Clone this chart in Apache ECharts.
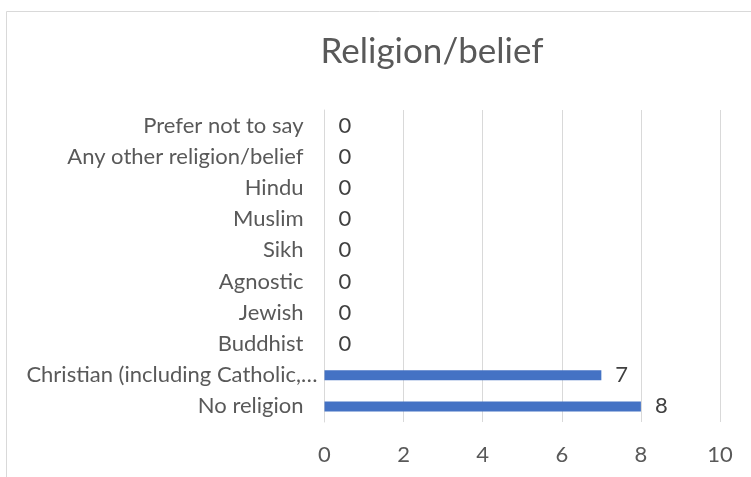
<!DOCTYPE html>
<html>
<head>
<meta charset="utf-8">
<script src="https://cdn.jsdelivr.net/npm/echarts@6/dist/echarts.min.js"></script>
<style>html,body{margin:0;padding:0;background:#fff}#c{width:751px;height:477px}</style>
</head>
<body>
<div id="c"></div>
<script>
var titleText = 'Religion/belief';
// bottom to top
var categories = ['No religion', 'Christian (including Catholic,\u2026', 'Buddhist', 'Jewish', 'Agnostic', 'Sikh', 'Muslim', 'Hindu', 'Any other religion/belief', 'Prefer not to say'];
var values = [8, 7, 0, 0, 0, 0, 0, 0, 0, 0];
var xTicks = [0, 2, 4, 6, 8, 10];

var FONT = 'Lato';
var GREY = '#595959';
var chart = echarts.init(document.getElementById('c'));
chart.setOption({
  animation: false,
  backgroundColor: '#fff',
  title: {
    text: titleText,
    left: 432,
    top: 34,
    textAlign: 'center',
    padding: 0,
    textStyle: {fontFamily: FONT, fontSize: 35, fontWeight: 'normal', color: GREY}
  },
  graphic: [{
    type: 'rect',
    shape: {x: 6.5, y: 11.5, width: 800, height: 520},
    style: {fill: 'none', stroke: '#d9d9d9', lineWidth: 1},
    silent: true
  }],
  grid: {left: 324.5, right: 31, top: 110, bottom: 55, containLabel: false},
  xAxis: {
    type: 'value',
    min: xTicks[0],
    max: xTicks[xTicks.length - 1],
    interval: 2,
    axisLine: {show: false},
    axisTick: {show: false},
    splitLine: {show: true, lineStyle: {color: '#d9d9d9', width: 1}},
    axisLabel: {fontFamily: FONT, fontSize: 22, color: GREY, margin: 22}
  },
  yAxis: {
    type: 'category',
    data: categories.map(function (c, i) {
      return i === 1 ? {value: c, textStyle: {padding: [2, 0, 0, 0]}} : c;
    }),
    axisLine: {show: true, lineStyle: {color: '#d9d9d9', width: 1}},
    axisTick: {show: false},
    splitLine: {show: false},
    axisLabel: {fontFamily: FONT, fontSize: 22, color: GREY, margin: 7, padding: [2, 14, 0, 0]}
  },
  series: [{
    type: 'bar',
    data: values,
    barWidth: '32%',
    itemStyle: {color: '#4472C4'},
    label: {show: true, position: 'right', distance: 14, fontFamily: FONT, fontSize: 22, color: '#404040', padding: [2, 0, 0, 0]}
  }]
});
</script>
</body>
</html>
